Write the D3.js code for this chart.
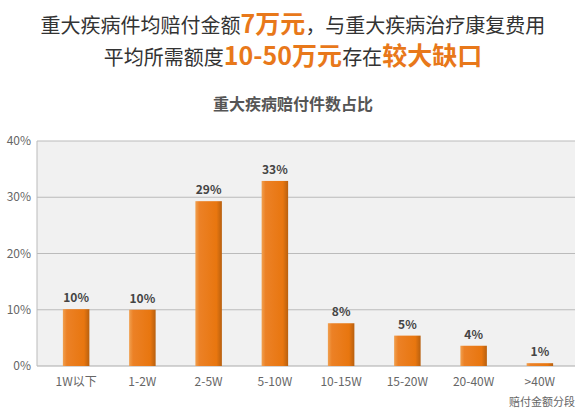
<!DOCTYPE html>
<html><head><meta charset="utf-8">
<script src="https://cdn.jsdelivr.net/npm/d3@7"></script>
<style>body{margin:0;background:#fff;font-family:"Noto Sans CJK SC","Noto Sans",sans-serif}</style>
</head><body><svg id="c" width="586" height="419"></svg>
<script>
const categories=["1W以下","1-2W","2-5W","5-10W","10-15W","15-20W","20-40W",">40W"];
const values=[10.1,10,29.3,32.9,7.6,5.4,3.6,0.5];
const valueLabels=["10%","10%","29%","33%","8%","5%","4%","1%"];
const yTicks=[0,10,20,30,40];
const titleLine1=[["重大疾病件均赔付金额",0],["7万元",1],["，与重大疾病治疗康复费用",0]];
const titleLine2=[["平均所需额度",0],["10-50万元",1],["存在",0],["较大缺口",1]];
const svg=d3.select("#c");
const F='"Noto Sans CJK SC",sans-serif';
const x=d3.scaleBand().domain(categories).range([43,573]).paddingInner(0.6).paddingOuter(0.3);
const y=d3.scaleLinear().domain([0,40]).range([366,141]);
svg.append("rect").attr("x",37).attr("y",141).attr("width",538).attr("height",225).attr("fill","#f1f1f1");
const defs=svg.append("defs");
const g=defs.append("linearGradient").attr("id","bg");
[[0,"#f0a050"],[0.15,"#ec8126"],[0.8,"#e8760f"],[1,"#b8600f"]].forEach(s=>g.append("stop").attr("offset",s[0]).attr("stop-color",s[1]));
svg.append("g").selectAll("line").data(yTicks).join("line")
 .attr("x1",37).attr("x2",575).attr("y1",d=>y(d)).attr("y2",d=>y(d))
 .attr("stroke",d=>d===0?"#aaa":"#bbb").attr("stroke-width",1);
svg.append("line").attr("x1",37).attr("x2",37).attr("y1",141).attr("y2",366).attr("stroke","#bbb");
svg.append("g").selectAll("text").data(yTicks).join("text")
 .attr("x",31).attr("y",d=>y(d)+4).attr("text-anchor","end").attr("font-size",12).attr("fill","#666").attr("font-family",F).text(d=>d+"%");
svg.append("g").selectAll("rect").data(values).join("rect")
 .attr("x",(d,i)=>x(categories[i])).attr("width",x.bandwidth())
 .attr("y",d=>y(d)).attr("height",d=>y(0)-y(d)).attr("fill","url(#bg)");
svg.append("g").selectAll("text").data(values).join("text")
 .attr("x",(d,i)=>x(categories[i])+x.bandwidth()/2).attr("y",d=>y(d)-7)
 .attr("text-anchor","middle").attr("font-size",12).attr("font-weight","bold").attr("fill","#444").attr("font-family",F)
 .text((d,i)=>valueLabels[i]);
svg.append("g").selectAll("text").data(categories).join("text")
 .attr("x",d=>x(d)+x.bandwidth()/2).attr("y",386).attr("text-anchor","middle").attr("font-size",12).attr("fill","#666").attr("font-family",F).text(d=>d);
svg.append("text").attr("x",575).attr("y",406).attr("text-anchor","end").attr("font-size",11).attr("fill","#666").attr("font-family",F).text("赔付金额分段");
function title(parts,yy){
 const t=svg.append("text").attr("x",293).attr("y",yy).attr("text-anchor","middle").attr("font-family",F).attr("font-size",20).attr("fill","#333");
 parts.forEach(p=>t.append("tspan").text(p[0]).attr("fill",p[1]?"#e8781a":"#333").attr("font-weight",p[1]?"bold":"normal").attr("font-size",p[1]?25:20));
}
title(titleLine1,33);
title(titleLine2,65);
svg.append("text").attr("x",293).attr("y",110).attr("text-anchor","middle").attr("font-family",F).attr("font-size",16).attr("font-weight","bold").attr("fill","#555").text("重大疾病赔付件数占比");
</script></body></html>
